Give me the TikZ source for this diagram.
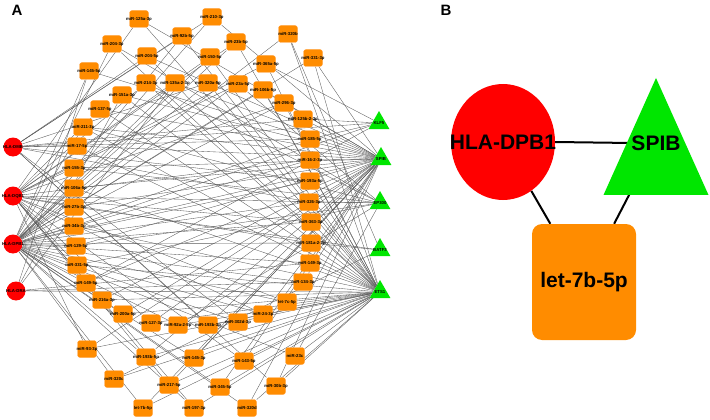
\documentclass[tikz,border=0pt]{standalone}
\usepackage{fontspec}
\setmainfont{Liberation Sans}
\usepackage{xcolor}
\usetikzlibrary{shapes.geometric,backgrounds}
\definecolor{mirorange}{RGB}{255,140,0}
\definecolor{genered}{RGB}{255,0,0}
\definecolor{tfgreen}{RGB}{0,230,0}

\begin{document}
\begin{tikzpicture}[x=1pt,y=-1pt,
    mirna/.style={draw=orange!70, line width=0.3pt, fill=mirorange, rounded corners=2.5pt,
        minimum width=19pt, minimum height=17pt, inner sep=0pt},
    tinytext/.style={font=\fontsize{4.3}{5}\selectfont\bfseries, inner sep=0pt},
    hla/.style={circle, fill=genered, minimum size=19pt, inner sep=0pt},
    tf/.style={regular polygon, regular polygon sides=3, fill=tfgreen, minimum size=24pt, inner sep=0pt},
    link/.style={draw=black!65, line width=0.35pt},
    bigtext/.style={font=\fontsize{21}{24}\selectfont\bfseries, inner sep=0pt},
    boldlink/.style={draw=black, line width=2pt}]
    \useasboundingbox (0,0) rectangle (710,420);

    \node[font=\fontsize{15}{16}\selectfont\bfseries] (panelA) at (17,10) {A};
    \node[font=\fontsize{15}{16}\selectfont\bfseries] (panelB) at (446,10) {B};

    \node[hla, label={[tinytext]center:HLA-DMB}] (dmb) at (13,147) {};
    \node[hla, label={[tinytext]center:HLA-DQB1}] (dqb) at (13,196) {};
    \node[hla, label={[tinytext]center:HLA-DPB1}] (dpb) at (13,244) {};
    \node[hla, label={[tinytext]center:HLA-DRA}] (dra) at (16,291) {};

    \node[tf, label={[tinytext]center:KLF5}] (klf) at (379,123) {};
    \node[tf, label={[tinytext]center:SPIB}] (spib) at (381,159) {};
    \node[tf, label={[tinytext]center:EP300}] (ep) at (380,203) {};
    \node[tf, label={[tinytext]center:BATF3}] (batf) at (380,250) {};
    \node[tf, label={[tinytext]center:ETS1}] (ets) at (380,292) {};

    \foreach \n/\x/\y/\t in {
        1/139/19/miR-125a-3p, 2/212/17/miR-210-3p, 3/182/36/miR-92b-5p,
        4/112/44/miR-204-3p, 5/236/42/miR-23b-5p, 6/288/34/miR-320b,
        7/147/56/miR-204-5p, 8/210/57/miR-150-5p, 9/313/58/miR-331-3p,
        10/266/64/miR-365a-5p, 11/89/71/miR-145-5p, 12/146/83/miR-214-3p,
        13/175/83/miR-135a-2-3p, 14/208/83/miR-320a-5p, 15/238/84/miR-23a-5p,
        16/263/90/miR-106b-5p, 17/122/95/miR-151a-3p, 18/284/103/miR-296-3p,
        19/100/109/miR-137-5p, 20/303/119/miR-125b-2-3p, 21/83/127/miR-211-3p,
        22/77/146/miR-17-5p, 23/74/168/miR-155-3p, 24/74/188/miR-106a-5p,
        25/74/207/miR-27b-3p, 26/74/226/miR-34b-3p, 27/76/246/miR-129-5p,
        28/77/265/miR-331-5p,
        29/310/139/miR-185-5p, 30/310/160/miR-16-2-3p, 31/310/181/miR-193a-5p,
        32/309/202/miR-326-3p, 33/311/222/miR-363-3p, 34/311/243/miR-181a-2-3p,
        35/310/263/miR-149-3p,
        36/303/282/miR-134-3p, 37/287/302/let-7c-5p, 38/263/314/miR-24-3p,
        39/238/322/miR-302d-3p, 40/208/325/miR-193b-3p, 41/178/325/miR-92a-2-5p,
        42/151/323/miR-127-3p, 43/123/314/miR-200a-5p, 44/102/300/miR-216a-3p,
        45/86/283/miR-149-5p,
        46/87/349/miR-93-3p, 47/146/357/miR-193b-5p, 48/194/358/miR-145-3p,
        49/244/361/miR-143-5p, 50/295/356/miR-23c, 51/114/379/miR-320c,
        52/169/385/miR-217-5p, 53/220/387/miR-345-5p, 54/276/386/miR-30b-3p,
        55/143/408/let-7b-5p, 56/194/408/miR-197-3p, 57/247/408/miR-320d}
        \node[mirna, label={[tinytext]center:\t}] (m\n) at (\x,\y) {};

    \begin{scope}[on background layer]
        \foreach \m/\gl in {
            1/{dqb,ets,spib}, 2/{dpb,spib,dmb}, 3/{dmb,ets,dpb}, 4/{dpb,ep,ets},
            5/{dqb,ets,dpb}, 6/{ets,batf,dpb}, 7/{dmb,spib,ets}, 8/{dpb,ets,dqb},
            9/{ets,spib,dpb}, 10/{dqb,klf,ets}, 11/{dpb,dra,spib}, 12/{dqb,ep,ets},
            13/{dpb,spib,dra}, 14/{dmb,ets,dpb}, 15/{dqb,ep,dpb}, 16/{dpb,spib,ets},
            17/{dra,ets,spib}, 18/{dpb,ets,dqb}, 19/{dqb,spib,ets}, 20/{dmb,klf,spib},
            21/{dpb,ep,ets,spib}, 22/{dmb,spib,ets}, 23/{dqb,ep,spib}, 24/{dpb,spib,ets},
            25/{dqb,batf,spib}, 26/{dpb,ets,klf}, 27/{dpb,spib,ep}, 28/{dqb,ep,ets},
            29/{dpb,klf,dmb}, 30/{dqb,spib,dpb}, 31/{dpb,ets,dmb}, 32/{dmb,ep,dpb},
            33/{dpb,spib,dqb}, 34/{dqb,batf,dpb}, 35/{dpb,ets,dra},
            36/{dra,spib,dpb}, 37/{dpb,ets,dqb}, 38/{dqb,spib,dpb}, 39/{dpb,ets,dmb},
            40/{dmb,spib,ets}, 41/{dpb,ep,ets}, 42/{dqb,ets,spib}, 43/{dpb,spib,ets},
            44/{dqb,ets,spib}, 45/{dpb,spib,klf},
            46/{dqb,ets,spib}, 47/{dpb,spib,ets}, 48/{dpb,ets,spib}, 49/{dqb,spib,ets},
            50/{ets,ep,dpb}, 51/{dpb,batf,ets}, 52/{dqb,ets,spib}, 53/{dpb,spib,ets},
            54/{dmb,ets,spib}, 55/{dpb,spib,ets}, 56/{dqb,ets,dpb}, 57/{dpb,spib,ets}}
            \foreach \g in \gl
                \draw[link] (m\m) -- (\g);
        \draw[link] (dra) -- (ets);
        \draw[link] (dpb) -- (spib);
        \draw[link] (dqb) -- (ep);
        \draw[link] (dmb) -- (klf);
    \end{scope}

    \node[ellipse, fill=genered, minimum width=104pt, minimum height=116pt, inner sep=0pt,
        label={[bigtext]center:HLA-DPB1}] (dpbB) at (503,142) {};
    \node[isosceles triangle, isosceles triangle stretches, shape border rotate=90,
        fill=tfgreen, minimum width=105pt, minimum height=117pt, inner sep=0pt] (spibB) at (656,161) {};
    \node[bigtext] (spibText) at (656,143) {SPIB};
    \node[fill=mirorange, rounded corners=10pt, minimum width=104pt, minimum height=116pt,
        bigtext] (letB) at (584,282) {let-7b-5p};
    \begin{scope}[on background layer]
        \draw[boldlink] (dpbB.east) -- (spibText.west);
        \draw[boldlink] (dpbB) -- (letB);
        \draw[boldlink] (spibText) -- (letB);
    \end{scope}
\end{tikzpicture}
\end{document}
